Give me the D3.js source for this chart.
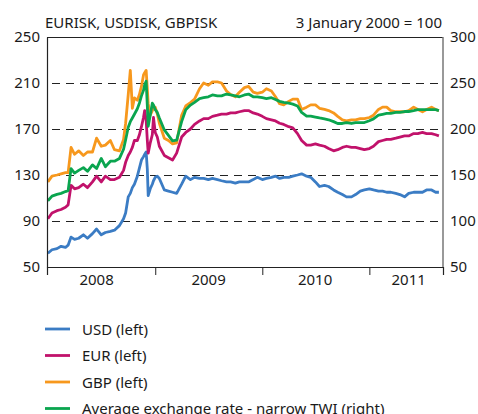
<!DOCTYPE html>
<html>
<head>
<meta charset="utf-8">
<script src="https://cdn.jsdelivr.net/npm/d3@7"></script>
<style>
  body { margin: 0; background: #fff; }
  text { font-family: "Noto Sans", "Open Sans", sans-serif; fill: #1a1a1a; }
</style>
</head>
<body>
<div id="chart"></div>
<script>
// dates shared by all four series (denser around the autumn 2008 turmoil)
var dates = [
  "2008-01-01","2008-01-15","2008-02-01","2008-02-15","2008-03-01","2008-03-10","2008-03-20",
  "2008-04-01","2008-04-15","2008-05-01","2008-05-15","2008-06-01","2008-06-15","2008-07-01",
  "2008-07-15","2008-08-01","2008-08-15","2008-09-01","2008-09-15","2008-09-22","2008-10-01",
  "2008-10-08","2008-10-15","2008-10-22","2008-11-01","2008-11-08","2008-11-15","2008-11-22",
  "2008-11-26","2008-12-01","2008-12-05","2008-12-08","2008-12-15","2008-12-22","2008-12-26",
  "2009-01-01","2009-01-08","2009-01-15","2009-02-01","2009-02-15","2009-03-01","2009-03-15",
  "2009-04-01","2009-04-15","2009-05-01","2009-05-15","2009-06-01","2009-06-15","2009-07-01",
  "2009-07-15","2009-08-01","2009-08-15","2009-09-01","2009-09-15","2009-10-01","2009-10-15",
  "2009-11-01","2009-11-15","2009-12-01","2009-12-15",
  "2010-01-01","2010-01-15","2010-02-01","2010-02-15","2010-03-01","2010-03-15","2010-04-01",
  "2010-04-15","2010-05-01","2010-05-15","2010-06-01","2010-06-15","2010-07-01","2010-07-15",
  "2010-08-01","2010-08-15","2010-09-01","2010-09-15","2010-10-01","2010-10-15","2010-11-01",
  "2010-11-15","2010-12-01","2010-12-15",
  "2011-01-01","2011-01-15","2011-02-01","2011-02-15","2011-03-01","2011-03-15","2011-04-01",
  "2011-04-15","2011-05-01","2011-05-15","2011-06-01","2011-06-15","2011-07-01","2011-07-15",
  "2011-08-01","2011-08-15","2011-08-26"
];

var usd = [
  62,65,66,68,67,69,76,74,75,78,75,79,83,78,80,81,82,86,92,97,111,114,119,122,129,136,143,146,148,150,135,112,118,122,125,
  128,129,127,117,116,115,114,122,129,126,128,127,127,126,127,126,125,124,124,123,124,124,124,126,128,
  126,127,128,129,127,128,128,129,130,131,129,128,124,120,121,120,117,115,113,111,111,113,116,117,
  118,117,116,116,115,115,114,113,111,114,115,115,115,117,117,115,115
];
var eur = [
  92,97,99,100,102,104,121,118,119,122,119,124,129,124,129,126,126,128,134,141,147,150,154,160,160,165,172,180,186,178,160,149,158,165,180,
  167,163,155,147,145,143,149,163,167,170,174,177,179,179,181,182,183,183,184,184,185,186,186,184,183,
  181,179,178,177,175,174,172,171,166,160,156,156,157,156,155,153,151,152,154,155,154,154,153,152,
  153,155,159,160,161,161,162,163,164,164,166,166,167,166,166,165,164
];
var gbp = [
  124,129,130,131,132,132,154,148,151,147,150,150,162,155,156,160,152,151,161,175,200,221,188,197,195,200,207,217,219,221,205,192,182,186,188,
  189,183,175,162,160,157,158,182,190,193,196,205,210,208,211,211,210,203,200,198,202,206,207,202,201,
  202,205,203,198,192,191,194,196,196,187,189,191,191,188,187,186,184,181,178,177,178,178,179,179,
  180,182,187,189,189,186,185,185,185,186,189,187,185,187,189,187,186
];
// narrow trade weighted index, right axis
var twi = [
  122,127,129,130,132,133,157,152,155,158,154,161,157,168,159,165,165,168,178,188,202,208,212,216,222,228,236,242,248,252,225,203,215,228,226,
  221,218,212,199,193,187,188,208,221,226,229,233,234,235,237,236,236,238,237,236,235,237,238,235,235,
  234,233,234,232,230,229,228,227,225,218,214,214,213,212,211,210,208,206,206,207,206,207,207,207,
  209,211,215,216,217,217,218,218,219,219,220,221,221,221,221,221,220
];

var leftTicks = [50, 90, 130, 170, 210, 250];
var rightTicks = [50, 100, 150, 200, 250, 300];
var yearBreaks = ["2009-01-01", "2010-01-01", "2011-01-01"];
var yearLabels = ["2008", "2009", "2010", "2011"];
var yearLabelDates = ["2008-06-15", "2009-07-02", "2010-06-30", "2011-05-15"];

var seriesNames = ["USD (left)", "EUR (left)", "GBP (left)", "Average exchange rate - narrow TWI (right)"];
var colors = ["#3b7cc4", "#c1126b", "#f7981d", "#0aa54f"];

var W = 478, H = 414;
var plot = { left: 47, right: 443, top: 37, bottom: 267 };
var parse = d3.timeParse("%Y-%m-%d");

var svg = d3.select("#chart").append("svg")
    .attr("width", W)
    .attr("height", H);

var x = d3.scaleTime()
    .domain([parse("2007-12-29"), parse("2011-09-09")])
    .range([plot.left, plot.right]);
var yL = d3.scaleLinear().domain([50, 250]).range([plot.bottom, plot.top]);
var yR = d3.scaleLinear().domain([50, 300]).range([plot.bottom, plot.top]);

// dashed grid
svg.append("g")
    .selectAll("line")
    .data(leftTicks.filter(function (d) { return d > 50 && d < 250; }))
    .enter().append("line")
    .attr("x1", plot.left).attr("x2", plot.right)
    .attr("y1", function (d) { return Math.round(yL(d)) + 0.5; })
    .attr("y2", function (d) { return Math.round(yL(d)) + 0.5; })
    .attr("stroke", "#222")
    .attr("stroke-width", 1)
    .attr("stroke-dasharray", "8,6")
    .attr("stroke-dashoffset", -5);

// lines
var dd = dates.map(parse);
var all = [usd, eur, gbp, twi];
all.forEach(function (vals, k) {
    var ys = k === 3 ? yR : yL;
    var line = d3.line()
        .x(function (d, i) { return x(dd[i]); })
        .y(function (d) { return ys(d); });
    svg.append("path")
        .datum(vals)
        .attr("d", line)
        .attr("fill", "none")
        .attr("stroke", colors[k])
        .attr("stroke-width", 2.8)
        .attr("stroke-linejoin", "round");
});

// frame
svg.append("line").attr("x1", plot.left).attr("x2", plot.right)
    .attr("y1", plot.top + 0.5).attr("y2", plot.top + 0.5)
    .attr("stroke", "#222").attr("stroke-width", 1);
svg.append("line").attr("x1", plot.right).attr("x2", plot.right)
    .attr("y1", plot.top).attr("y2", plot.bottom)
    .attr("stroke", "#777").attr("stroke-width", 1.5);

// left axis
var axL = svg.append("g")
    .attr("transform", "translate(" + plot.left + ",0)")
    .call(d3.axisLeft(yL).tickValues(leftTicks).tickSize(0).tickPadding(7));
axL.select(".domain").attr("stroke", "#222").attr("stroke-width", 1.2);

// right axis
var axR = svg.append("g")
    .attr("transform", "translate(" + plot.right + ",0)")
    .call(d3.axisRight(yR).tickValues(rightTicks).tickSize(0).tickPadding(7));
axR.select(".domain").remove();

// bottom axis, ticks at year breaks and both ends
var tickDates = [x.domain()[0]].concat(yearBreaks.map(parse), [x.domain()[1]]);
var axB = svg.append("g")
    .attr("transform", "translate(0," + plot.bottom + ")")
    .call(d3.axisBottom(x).tickValues(tickDates).tickSize(8).tickFormat(""));
axB.select(".domain").attr("stroke", "#222").attr("stroke-width", 1.2);
axB.selectAll(".tick line").attr("stroke", "#222");

svg.selectAll(".tick text")
    .style("font-size", "15px")
    .attr("font-family", null)
    .attr("fill", "#1a1a1a");

svg.append("g")
    .selectAll("text")
    .data(yearLabels)
    .enter().append("text")
    .attr("x", function (d, i) { return x(parse(yearLabelDates[i])); })
    .attr("y", 285)
    .attr("text-anchor", "middle")
    .style("font-size", "15px")
    .text(function (d) { return d; });

// headings
svg.append("text")
    .attr("x", 45).attr("y", 28)
    .style("font-size", "15px")
    .text("EURISK, USDISK, GBPISK");
svg.append("text")
    .attr("x", 442).attr("y", 28)
    .attr("text-anchor", "end")
    .style("font-size", "15px")
    .text("3 January 2000 = 100");

// legend
var legend = svg.selectAll(".legend")
    .data(seriesNames)
    .enter().append("g")
    .attr("class", "legend")
    .attr("transform", function (d, i) { return "translate(45," + (329 + i * 26.5) + ")"; });

legend.append("line")
    .attr("x1", 0).attr("x2", 25)
    .attr("stroke", function (d, i) { return colors[i]; })
    .attr("stroke-width", 2.8);

legend.append("text")
    .attr("x", 37)
    .attr("y", 5.5)
    .style("font-size", "15px")
    .text(function (d) { return d; });
</script>
</body>
</html>
